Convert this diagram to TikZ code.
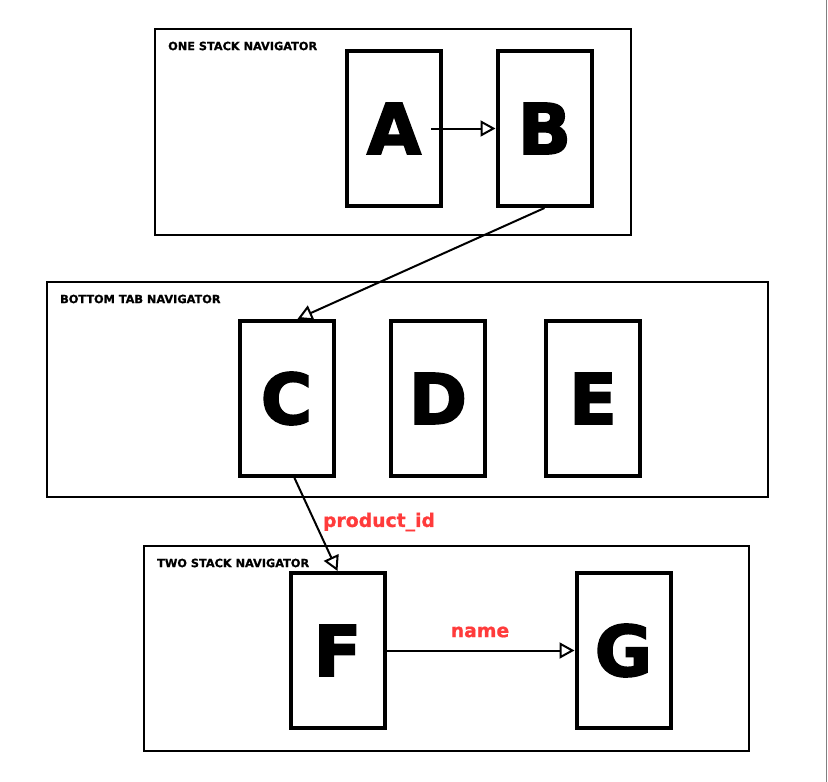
\documentclass[tikz,border=0pt]{standalone}
\usepackage{fontspec}
\setmainfont{DejaVu Sans}
\newfontfamily\heavyfont[FakeBold=2.5]{DejaVu Sans Bold}
\newfontfamily\semiheavyfont[FakeBold=1]{DejaVu Sans Bold}
\usetikzlibrary{arrows.meta}
\definecolor{lblred}{HTML}{FF3B3B}
\tikzset{
  container/.style={draw=black, line width=2pt, fill=none},
  screen/.style={draw=black, line width=4pt, minimum width=94pt, minimum height=155pt, inner sep=0pt, font=\heavyfont\fontsize{70}{70}\selectfont},
  title/.style={anchor=west, inner sep=0pt, font=\semiheavyfont\fontsize{11.3}{12}\selectfont},
  link/.style={draw=black, line width=2pt, -{Triangle[open, length=15pt, width=16pt, line width=2pt]}},
  edgelabel/.style={text=lblred, inner sep=0pt, font=\semiheavyfont\fontsize{18.8}{20}\selectfont}
}
\begin{document}
\begin{tikzpicture}[x=1pt,y=-1pt]
\useasboundingbox (0,0) rectangle (828,782);
\draw[gray, line width=1.5pt] (826.5,0) -- (826.5,782);
% containers
\draw[container] (155,29) rectangle (631,235);
\node[title] (t1) at (168,46) {ONE STACK NAVIGATOR};
\draw[container] (47,282) rectangle (768,497);
\node[title] (t2) at (60,299) {BOTTOM TAB NAVIGATOR};
\draw[container] (144,546) rectangle (749,751);
\node[title] (t3) at (157,563) {TWO STACK NAVIGATOR};
% screens
\node[screen] (A) at (394,128.5) {A};
\node[screen] (B) at (544.5,128.5) {B};
\node[screen] (C) at (286.5,398.5) {C};
\node[screen] (D) at (438,398.5) {D};
\node[screen] (E) at (593,398.5) {E};
\node[screen] (F) at (337.5,650.5) {F};
\node[screen] (G) at (623.5,650.5) {G};
% connectors
\draw[link] ([xshift=37pt]A.center) -- (B.west);
\draw[link] (B.south) -- ([xshift=11pt]C.north);
\draw[link] ([xshift=8pt]C.south) -- (F.north);
\draw[link] (F.east) -- (G.west);
% labels
\node[edgelabel] (l1) at (379,522) {product\_id};
\node[edgelabel] (l2) at (480,632) {name};
\end{tikzpicture}
\end{document}
